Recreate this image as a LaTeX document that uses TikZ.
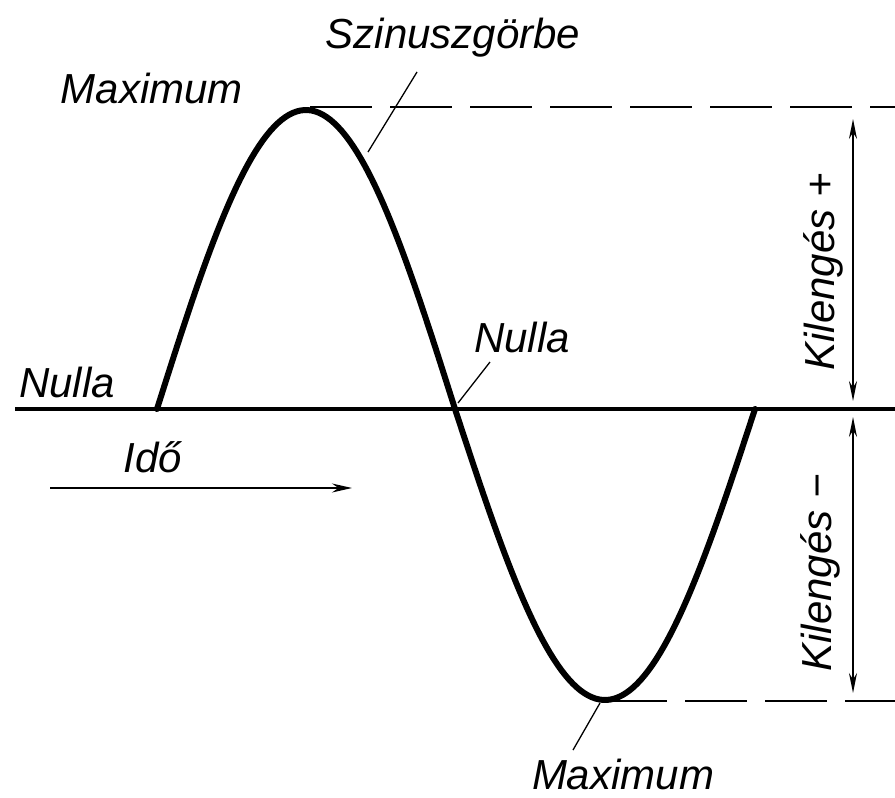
\documentclass[tikz,border=0pt]{standalone}
\usepackage{fontspec}
\setmainfont{Liberation Sans}
\usetikzlibrary{arrows.meta}
\begin{document}
\begin{tikzpicture}[x=1pt,y=-1pt,
  lab/.style={font=\fontsize{42}{46}\selectfont\itshape, inner sep=0pt},
  curve/.style={line width=6pt, line cap=round, line join=round},
  axisline/.style={line width=3.2pt},
  dashline/.style={line width=2.6pt, dash pattern=on 62pt off 18pt},
  dimline/.style={line width=1.6pt, {Stealth[length=20pt,width=8pt]}-{Stealth[length=20pt,width=8pt]}},
  leader/.style={line width=1.3pt},
  timearrow/.style={line width=1.6pt, -{Stealth[length=20pt,width=9pt]}}]
\useasboundingbox (0,0) rectangle (895,798);
\fill[white] (0,0) rectangle (895,798);

% axis
\coordinate (axL) at (15,409);
\coordinate (axR) at (895,409);
\draw[axisline] (axL) -- (axR);

% sine curve
\draw[curve] plot[domain=0:180, samples=80] ({157+1.6556*\x},{409-299*sin(\x)});
\draw[curve] plot[domain=0:180, samples=80] ({455+1.6667*\x},{409+291*sin(\x)});

% named points on curve
\coordinate (peak) at (310,110);
\coordinate (trough) at (605,700);
\coordinate (zero) at (458,403);
\coordinate (onCurve) at (368,152);

% dashed extension lines
\coordinate (topR) at (895,107);
\coordinate (botR) at (895,701);
\draw[dashline] (peak |- topR) -- (topR);
\draw[dashline] (trough |- botR) -- (botR);

% dimension lines
\coordinate (dTop) at (853,107);
\coordinate (dMid) at (853,409);
\coordinate (dBot) at (853,701);
\draw[dimline, shorten <=12pt, shorten >=8pt] (dTop) -- (dMid);
\draw[dimline, shorten <=8pt, shorten >=8pt] (dMid) -- (dBot);

% labels
\node[lab] (max1) at (152,88) {Maximum};
\node[lab] (szin) at (453,38) {Szinuszgörbe};
\node[lab] (null1) at (67,382) {Nulla};
\node[lab] (null2) at (522,337) {Nulla};
\node[lab] (ido) at (153,457) {Idő};
\node[lab, rotate=90] (kilp) at (823,272) {Kilengés +};
\node[lab, rotate=90] (kilm) at (820,573) {Kilengés −};
\node[lab] (max2) at (623,774) {Maximum};

% leaders
\coordinate (szinL) at (417,72);
\draw[leader] (szinL) -- (onCurve);
\coordinate (nullL) at (490,362);
\draw[leader] (nullL) -- (zero);
\coordinate (maxL) at (573,750);
\coordinate (maxT) at (600,703);
\draw[leader] (maxT) -- (maxL);

% time arrow
\coordinate (tA) at (50,488);
\coordinate (tB) at (352,488);
\draw[timearrow] (tA) -- (tB);
\end{tikzpicture}
\end{document}
